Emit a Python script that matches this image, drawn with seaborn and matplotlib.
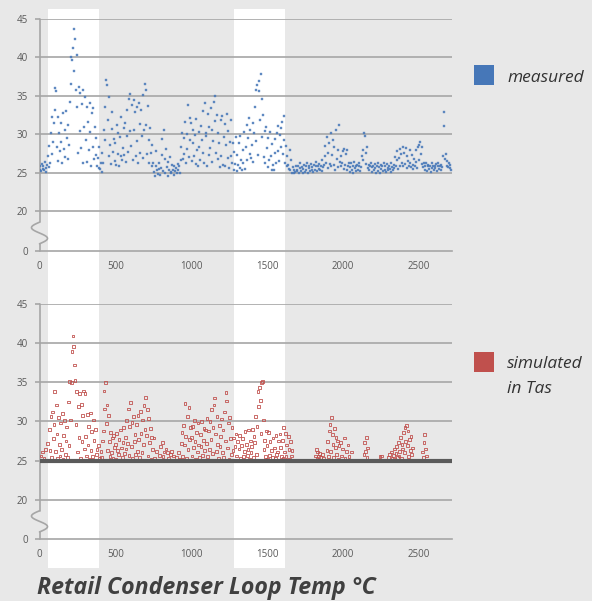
import numpy as np
import matplotlib
matplotlib.use("Agg")
import matplotlib.pyplot as plt
import matplotlib.transforms as mtransforms
from matplotlib.patches import Rectangle
import seaborn as sns

# sample times (every 5 h) and temperatures
hours = np.arange(0, 2720, 5)

measured = [
    25.4, 25.8, 25.2, 26.1, 25.5, 25.9, 25.3, 26.4, 25.6, 25.1, 26.0, 27.2, 25.7, 28.5, 26.3, 30.1, 27.4, 32.2, 29.0, 31.5,
    36.0, 33.1, 35.6, 28.4, 32.3, 26.5, 30.2, 27.8, 31.4, 29.0, 26.2, 32.8, 28.1, 30.6, 27.0, 33.0, 29.5, 26.8, 31.2, 28.6,
    34.2, 40.1, 36.5, 39.6, 41.2, 43.7, 38.2, 42.4, 35.8, 40.3, 33.6, 27.5, 36.1, 30.4, 35.4, 28.2, 33.9, 26.3, 35.7, 31.0,
    34.8, 29.2, 33.5, 26.4, 31.6, 27.9, 34.1, 30.3, 25.9, 32.7, 28.4, 33.4, 26.8, 30.9, 27.3, 29.5, 25.8, 26.9, 25.6, 28.3,
    25.5, 26.3, 25.1, 27.6, 26.2, 30.5, 29.2, 33.6, 37.1, 36.4, 31.8, 27.2, 34.9, 28.6, 26.1, 30.7, 32.9, 27.7, 29.4, 26.5,
    28.9, 26.0, 31.2, 27.4, 30.1, 25.9, 29.6, 27.1, 32.3, 26.6, 28.2, 30.8, 27.3, 31.5, 26.4, 29.8, 33.1, 27.7, 34.6, 30.4,
    35.3, 28.5, 33.8, 26.7, 34.4, 30.6, 32.9, 27.2, 33.6, 29.1, 26.3, 34.0, 31.3, 27.6, 33.2, 29.8, 26.9, 35.1, 30.5, 36.6,
    35.8, 31.2, 27.4, 33.7, 29.3, 26.2, 30.8, 27.5, 28.6, 25.8, 26.3, 25.1, 24.6, 25.9, 27.8, 25.3, 24.8, 26.2, 25.5, 24.7,
    25.6, 27.3, 29.4, 25.2, 30.6, 26.8, 25.0, 28.1, 25.7, 24.6, 26.4, 25.3, 27.0, 25.1, 24.9, 26.0, 25.4, 24.7, 25.8, 25.2,
    25.6, 25.0, 26.1, 25.3, 25.8, 24.9, 26.6, 28.3, 30.2, 26.8, 29.5, 27.4, 31.6, 26.2, 30.0, 28.1, 33.8, 27.0, 32.1, 29.3,
    31.4, 26.5, 28.8, 30.6, 27.2, 29.9, 26.1, 32.0, 27.9, 25.8, 30.3, 28.4, 26.7, 31.1, 29.2, 27.5, 33.0, 26.3, 34.1, 30.1,
    29.8, 25.9, 32.6, 27.3, 31.0, 28.2, 33.4, 26.4, 30.5, 29.1, 34.2, 35.0, 31.7, 27.6, 32.5, 26.8, 30.2, 28.9, 25.7, 31.8,
    27.2, 32.4, 26.0, 29.7, 31.3, 25.8, 28.6, 32.6, 26.9, 30.4, 25.6, 29.0, 31.9, 27.1, 26.3, 28.8, 25.4, 27.7, 26.1, 29.6,
    25.2, 27.3, 26.0, 28.9, 25.6, 29.8, 26.7, 25.3, 27.9, 26.2, 30.3, 25.5, 28.4, 31.2, 26.6, 29.5, 32.1, 27.4, 30.6, 26.9,
    28.6, 31.4, 26.4, 30.2, 33.5, 29.1, 35.8, 36.4, 27.3, 36.9, 35.6, 31.8, 37.9, 34.6, 29.7, 32.5, 27.0, 30.4, 26.2, 31.0,
    28.2, 25.7, 29.5, 26.6, 30.3, 27.1, 25.4, 28.7, 26.0, 25.3, 27.6, 29.4, 26.3, 30.2, 27.8, 31.1, 26.5, 29.9, 28.3, 30.8,
    31.6, 27.4, 32.4, 29.2, 26.3, 28.5, 25.8, 27.1, 26.0, 25.5, 28.0, 25.3, 26.6, 25.0, 25.7, 24.9, 25.4, 25.1, 25.8, 25.2,
    25.3, 25.9, 25.0, 25.6, 26.2, 25.2, 25.7, 24.9, 25.5, 26.0, 25.1, 25.8, 25.4, 26.3, 25.0, 25.6, 25.9, 25.2, 26.1, 25.4,
    25.7, 25.1, 26.0, 25.4, 25.8, 26.4, 25.2, 25.9, 25.5, 26.1, 25.3, 25.8, 26.6, 25.2, 25.7, 26.0, 27.2, 28.5, 26.3, 29.7,
    27.6, 25.6, 28.9, 26.1, 30.1, 25.8, 27.3, 29.2, 26.0, 28.3, 25.4, 30.5, 26.8, 28.0, 25.7, 31.2, 26.4, 27.1, 25.9, 26.2,
    27.8, 25.5, 28.1, 26.0, 27.4, 25.3, 27.9, 25.8, 26.3, 25.1, 25.7, 26.2, 25.4, 25.9, 25.0, 26.4, 25.6, 25.2, 25.8, 26.0,
    25.4, 25.9, 26.3, 25.2, 25.7, 27.2, 28.0, 26.6, 30.2, 29.8, 27.5, 26.1, 28.3, 25.6, 26.0, 25.3, 25.8, 26.2, 25.1, 25.7,
    25.9, 25.3, 26.1, 25.6, 24.9, 25.8, 26.3, 25.2, 25.7, 25.0, 26.0, 25.5, 25.9, 25.2, 26.2, 25.4, 25.8, 25.1, 26.1, 25.6,
    25.3, 25.9, 25.5, 26.2, 25.1, 25.7, 25.4, 26.0, 25.6, 27.0, 25.8, 26.6, 27.8, 25.5, 26.9, 28.1, 25.9, 27.4, 26.3, 28.4,
    25.8, 27.6, 26.1, 28.2, 25.6, 27.1, 26.5, 25.9, 28.0, 26.2, 25.7, 27.3, 26.0, 25.5, 26.8, 25.9, 27.9, 26.4, 25.6, 28.3,
    26.7, 28.6, 29.0, 27.4, 26.1, 28.3, 25.7, 26.2, 25.4, 25.9, 26.3, 25.2, 25.8, 26.0, 25.5, 25.9, 25.1, 26.2, 25.6, 25.8,
    25.4, 25.9, 25.6, 26.1, 25.2, 25.8, 26.3, 25.5, 25.9, 25.3, 26.0, 25.7, 27.2, 32.9, 31.1, 26.8, 27.4, 25.9, 26.5, 25.7,
    26.2, 25.6, 26.0, 25.4,
]

simulated = [
    25.0, 25.0, 25.6, 25.0, 26.1, 25.0, 25.3, 25.0, 26.4, 25.0, 25.0, 27.2, 25.1, 29.0, 26.3, 30.6, 25.4, 31.2, 27.8, 29.6,
    33.8, 26.2, 32.1, 28.4, 25.3, 30.5, 27.1, 25.6, 29.8, 26.4, 31.0, 25.2, 28.2, 30.1, 25.8, 27.5, 29.3, 25.4, 32.5, 26.9,
    35.1, 30.2, 35.0, 38.9, 40.9, 39.6, 37.2, 35.2, 29.6, 33.8, 26.1, 31.9, 28.0, 33.6, 25.3, 32.2, 27.4, 30.8, 33.9, 26.5,
    33.6, 28.1, 25.6, 30.9, 27.0, 29.4, 25.2, 31.1, 26.3, 28.7, 25.5, 30.2, 27.6, 25.1, 29.0, 25.8, 26.4, 25.0, 26.9, 25.3,
    25.0, 26.2, 25.4, 27.5, 28.8, 33.9, 31.6, 35.0, 29.7, 32.1, 26.3, 30.8, 27.4, 25.5, 28.6, 26.0, 27.9, 25.3, 28.2, 26.7,
    27.1, 25.2, 28.5, 26.3, 25.8, 27.7, 25.1, 28.9, 26.6, 25.4, 27.3, 29.2, 25.9, 28.0, 26.5, 30.1, 27.2, 31.6, 25.7, 29.4,
    32.4, 26.8, 29.9, 25.3, 30.6, 27.4, 28.3, 25.8, 29.6, 26.2, 30.8, 27.7, 25.4, 31.3, 28.5, 26.0, 30.2, 27.1, 32.0, 29.0,
    33.1, 28.2, 31.5, 25.6, 30.4, 27.3, 29.1, 25.2, 28.0, 26.4, 25.0, 27.9, 25.3, 25.0, 26.2, 25.0, 25.0, 25.0, 25.7, 25.0,
    26.8, 25.0, 27.3, 25.5, 26.1, 25.0, 25.0, 26.5, 25.0, 26.0, 25.3, 25.0, 25.0, 25.8, 26.2, 25.0, 25.0, 25.6, 25.0, 25.0,
    25.0, 25.4, 25.0, 26.0, 25.0, 25.2, 25.0, 27.2, 28.6, 25.5, 29.5, 27.0, 32.3, 28.1, 25.3, 30.6, 26.4, 31.8, 27.7, 29.2,
    28.0, 25.6, 29.4, 26.7, 30.1, 27.4, 25.2, 28.6, 26.1, 29.8, 27.0, 25.4, 28.3, 26.8, 30.0, 25.7, 27.6, 29.1, 26.3, 28.9,
    27.2, 30.4, 25.5, 28.8, 26.4, 30.0, 27.7, 31.5, 25.9, 29.2, 32.1, 33.0, 28.4, 26.2, 30.6, 27.1, 25.3, 29.5, 26.8, 28.1,
    30.3, 26.0, 28.9, 25.4, 31.2, 27.5, 33.7, 32.6, 26.6, 29.8, 25.2, 30.5, 27.8, 25.8, 29.2, 26.3, 27.9, 25.0, 26.8, 28.4,
    25.6, 27.4, 25.0, 26.5, 28.2, 25.3, 26.9, 25.1, 27.8, 25.5, 26.2, 28.7, 25.0, 27.1, 25.7, 26.4, 28.9, 25.2, 27.5, 26.0,
    26.8, 29.0, 25.4, 28.1, 27.3, 30.6, 25.8, 29.4, 33.8, 31.9, 34.3, 32.7, 28.5, 35.0, 35.1, 30.2, 26.4, 27.6, 25.5, 28.8,
    26.9, 25.2, 28.6, 25.7, 27.4, 25.0, 26.3, 25.4, 27.9, 25.0, 26.6, 25.3, 28.2, 25.8, 26.1, 27.5, 25.1, 28.4, 26.7, 25.5,
    27.6, 25.3, 29.2, 26.1, 28.5, 25.5, 27.0, 25.0, 28.1, 26.4, 25.2, 27.4, 25.6, 26.3, 25.0, 25.0, 25.0, 25.0, 25.0, 25.0,
    25.0, 25.0, 25.0, 25.0, 25.0, 25.0, 25.0, 25.0, 25.0, 25.0, 25.0, 25.0, 25.0, 25.0, 25.0, 25.0, 25.0, 25.0, 25.0, 25.0,
    25.0, 25.0, 25.0, 25.0, 25.6, 26.4, 25.3, 26.1, 25.5, 25.9, 25.0, 25.4, 25.0, 25.8, 25.0, 25.3, 25.0, 25.0, 25.0, 26.3,
    27.4, 25.5, 28.8, 29.6, 26.2, 30.5, 28.3, 27.1, 25.4, 29.1, 26.7, 28.0, 25.8, 27.5, 25.2, 26.9, 25.0, 27.3, 25.6, 25.0,
    26.5, 25.0, 27.9, 25.3, 25.0, 26.2, 25.0, 27.0, 25.5, 25.0, 25.0, 26.1, 25.0, 25.0, 25.0, 25.0, 25.0, 25.0, 25.0, 25.0,
    25.0, 25.0, 25.0, 25.0, 25.0, 25.0, 25.0, 25.0, 25.8, 27.3, 26.2, 28.0, 25.4, 26.6, 25.0, 25.0, 25.0, 25.0, 25.0, 25.0,
    25.0, 25.0, 25.0, 25.0, 25.0, 25.0, 25.0, 25.0, 25.0, 25.5, 25.0, 25.6, 25.0, 25.0, 25.0, 25.0, 25.0, 25.0, 25.0, 25.0,
    25.4, 25.0, 25.8, 25.0, 26.1, 25.3, 25.0, 25.7, 26.5, 25.2, 25.9, 26.8, 25.4, 27.3, 25.6, 26.2, 28.0, 25.3, 27.1, 26.5,
    28.6, 26.0, 29.2, 27.4, 29.5, 26.9, 28.8, 25.5, 27.7, 26.3, 28.1, 25.8, 26.6, 25.0, 25.0, 25.0, 25.0, 25.0, 25.0, 25.0,
    25.0, 25.0, 25.0, 25.0, 25.0, 26.1, 25.4, 27.3, 28.3, 26.5, 25.6, 25.0, 25.0, 25.0, 25.0, 25.0, 25.0, 25.0, 25.0, 25.0,
    25.0, 25.0, 25.0, 25.0, 25.0, 25.0, 25.0, 25.0, 25.0, 25.0, 25.0, 25.0, 25.0, 25.0, 25.0, 25.0, 25.0, 25.0, 25.0, 25.0,
    25.0, 25.0, 25.0, 25.0,
]

# shaded (white) periods on the time axis
bands = [(59, 395), (1283, 1618)]
y_ticks = [20, 25, 30, 35, 40, 45]
x_labels = ["0", "500", "1000", "1500", "2000", "2500"]

BG = "#e8e8e8"
GRID = "#a6a6a6"
TXT = "#595959"
BLUE = "#4677b8"
RED = "#c0504d"

sns.set_theme(style="white", rc={"figure.facecolor": BG, "axes.facecolor": "none"})
plt.rcParams["font.family"] = ["Open Sans", "DejaVu Sans"]

fig = plt.figure(figsize=(5.92, 6.01), dpi=100)
fig.patch.set_facecolor(BG)

L, W = 39.5 / 592, 412.5 / 592
ax1 = fig.add_axes([L, 0.5824, W, 0.3860])
ax2 = fig.add_axes([L, 0.1032, W, 0.3910])

# white bands through both panels
blend = mtransforms.blended_transform_factory(ax1.transData, fig.transFigure)
for x0, x1 in bands:
    fig.patches.append(Rectangle((x0, 1 - 568 / 601), x1 - x0, (568 - 9) / 601,
                                 transform=blend, facecolor="white", edgecolor="none", zorder=-5))


def style_axis(ax, ybot):
    ax.set_xlim(0, 2720)
    ax.set_ylim(ybot, 45)
    ax.set_yticks([ybot] + y_ticks)
    ax.set_yticklabels(["0"] + [str(v) for v in y_ticks])
    xt = np.arange(0, 2720, 250)
    ax.set_xticks(xt)
    ax.set_xticklabels([x_labels[i // 2] if i % 2 == 0 else "" for i in range(len(xt))])
    for v in y_ticks:
        ax.axhline(v, color=GRID, lw=1.2, zorder=1)
    for s in ["top", "right", "left"]:
        ax.spines[s].set_visible(False)
    ax.spines["bottom"].set_color(GRID)
    ax.spines["bottom"].set_linewidth(1.2)
    ax.tick_params(axis="x", length=3, width=1, color=GRID, pad=4, labelsize=7, labelcolor=TXT)
    ax.tick_params(axis="y", length=3.5, width=1.2, color=GRID, pad=5, labelsize=7, labelcolor=TXT, left=True)
    ax.set_xlabel("")
    ax.set_ylabel("")
    # broken left axis with squiggle between 0 and 20
    tr = mtransforms.blended_transform_factory(ax.transAxes, ax.transData)
    ppu = 1.0 / 412.5
    ytop_w = ybot + (20 - ybot) * 0.72
    ybot_w = ybot + (20 - ybot) * 0.18
    t = np.linspace(0, 1, 60)
    xs = -8 * ppu * np.sin(2 * np.pi * t)
    ys = ytop_w - (ytop_w - ybot_w) * t
    ax.plot([0, 0], [45, ytop_w], color=GRID, lw=1.2, transform=tr, clip_on=False)
    ax.plot(xs, ys, color=GRID, lw=1.2, transform=tr, clip_on=False)
    ax.plot([0, 0], [ybot_w, ybot], color=GRID, lw=1.2, transform=tr, clip_on=False)


sns.scatterplot(x=hours, y=measured, ax=ax1, marker="s", s=4.2, color=BLUE,
                edgecolor=BLUE, linewidth=0.3, alpha=0.8, zorder=3)
sns.scatterplot(x=hours, y=simulated, ax=ax2, marker="s", s=3.8, facecolor="none",
                edgecolor=RED, linewidth=0.65, alpha=0.9, zorder=3)
ax2.axhline(25, color="#5a5a5a", lw=3, zorder=4)

style_axis(ax1, 14.8)
style_axis(ax2, 15.0)

# legends
fig.patches.append(Rectangle((474 / 592, 1 - 85 / 601), 20 / 592, 20 / 601, transform=fig.transFigure,
                             facecolor=BLUE, edgecolor="none"))
fig.text(507 / 592, 1 - 78 / 601, "measured", fontsize=12.5, style="italic", color="#333333", va="center")
fig.patches.append(Rectangle((474 / 592, 1 - 372 / 601), 20 / 592, 20 / 601, transform=fig.transFigure,
                             facecolor=RED, edgecolor="none"))
fig.text(507 / 592, 1 - 364 / 601, "simulated", fontsize=12.5, style="italic", color="#333333", va="center")
fig.text(507 / 592, 1 - 389 / 601, "in Tas", fontsize=12.5, style="italic", color="#333333", va="center")

fig.text(37 / 592, 1 - 588 / 601, "Retail Condenser Loop Temp °C", fontsize=16.7, fontweight="bold",
         style="italic", color="#404040", va="center", ha="left")

fig.savefig("out.png", dpi=100, facecolor=BG)
